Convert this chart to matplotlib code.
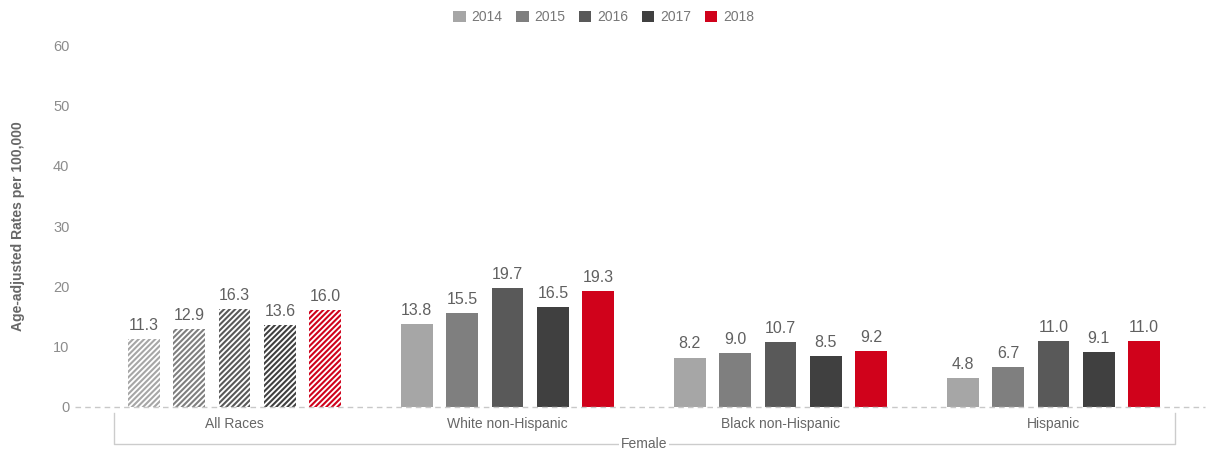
import numpy as np
import matplotlib.pyplot as plt

plt.rcParams['font.family'] = ['Liberation Sans', 'DejaVu Sans']
plt.rcParams['hatch.linewidth'] = 1.5

groups = ['All Races', 'White non-Hispanic', 'Black non-Hispanic', 'Hispanic']
years = ['2014', '2015', '2016', '2017', '2018']
colors = ['#a6a6a6', '#7f7f7f', '#595959', '#404040', '#d0021b']
rates = {
    '2014': [11.3, 13.8, 8.2, 4.8],
    '2015': [12.9, 15.5, 9.0, 6.7],
    '2016': [16.3, 19.7, 10.7, 11.0],
    '2017': [13.6, 16.5, 8.5, 9.1],
    '2018': [16.0, 19.3, 9.2, 11.0],
}
hatched = [True, False, False, False]  # first group drawn striped

fig = plt.figure(figsize=(12.07, 4.53), dpi=100)
ax = fig.add_axes([75 / 1207, 46 / 453, 1130 / 1207, 362 / 453])

x = np.arange(len(groups))
step = 0.166
width = 0.117
txt = '#606060'

for j, yr in enumerate(years):
    pos = x + (j - 2) * step
    vals = rates[yr]
    for i in range(len(groups)):
        if hatched[i]:
            ax.bar(pos[i], vals[i], width, color='white', edgecolor=colors[j],
                   hatch='/' * 6, linewidth=0)
        else:
            ax.bar(pos[i], vals[i], width, color=colors[j], linewidth=0)
        ax.text(pos[i], vals[i] + 1.0, f'{vals[i]:.1f}', ha='center', va='bottom',
                fontsize=11.5, color=txt)
    ax.bar(0, 0, 0, color=colors[j], label=yr)

ax.set_ylim(0, 60)
ax.set_xlim((75 - 234.5) / 273, (1205 - 234.5) / 273)
ax.set_yticks(range(0, 61, 10))
ax.tick_params(axis='y', length=0, pad=4, labelsize=10.5, labelcolor='#8c8c8c')
ax.set_xticks(x)
ax.set_xticklabels(groups)
ax.tick_params(axis='x', length=0, pad=7, labelsize=10, labelcolor='#666666')
for s in ax.spines.values():
    s.set_visible(False)
ax.axhline(0, color='#c8c8c8', linestyle=(0, (4, 3)), linewidth=1, clip_on=False)

ax.set_ylabel('Age-adjusted Rates per 100,000', fontsize=10, fontweight='bold',
              color='#666666', labelpad=10)
ax.yaxis.set_label_coords(-50 / 1130, 0.5)

# group bracket under the categories
bx0, bx1 = -0.441, 3.445
by0, by1 = -1.0, -6.13
kw = dict(color='#cccccc', linewidth=1, clip_on=False)
ax.plot([bx0, bx0, bx1, bx1], [by0, by1, by1, by0], **kw)
ax.text(1.5, by1, 'Female', ha='center', va='center', fontsize=10, color='#666666',
        bbox=dict(facecolor='white', edgecolor='none', pad=1))

leg = fig.legend(loc='upper center', bbox_to_anchor=(0.5, 1.005), ncol=5, frameon=False,
                 fontsize=10, handlelength=0.9, handleheight=0.9, handletextpad=0.4,
                 columnspacing=1.0)
for t in leg.get_texts():
    t.set_color('#777777')

fig.savefig('out.png', dpi=100)
